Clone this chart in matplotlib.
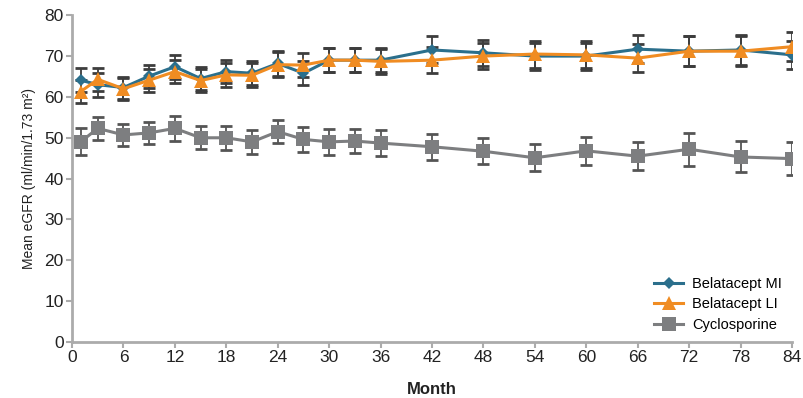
import numpy as np
import matplotlib.pyplot as plt

plt.rcParams['font.family'] = ['Liberation Sans', 'DejaVu Sans']

months = [1, 3, 6, 9, 12, 15, 18, 21, 24, 27, 30, 33, 36, 42, 48, 54, 60, 66, 72, 78, 84]

mi_mean = [64.1, 63.0, 62.3, 65.1, 67.4, 64.5, 66.2, 65.8, 68.2, 65.8, 69.0, 69.0, 69.0,
           71.5, 70.8, 70.0, 70.0, 71.7, 71.2, 71.5, 70.3]
mi_err = [3.0, 2.9, 2.7, 2.8, 2.9, 2.8, 2.9, 2.9, 3.0, 3.0, 3.0, 3.0, 3.0,
          3.3, 3.2, 3.3, 3.3, 3.5, 3.6, 3.6, 3.5]

li_mean = [61.3, 64.3, 62.0, 64.1, 66.2, 64.0, 65.4, 65.3, 67.9, 67.8, 69.0, 69.0, 68.7,
           69.0, 70.0, 70.5, 70.3, 69.5, 71.2, 71.2, 72.3]
li_err = [2.9, 2.8, 2.7, 2.8, 2.9, 2.8, 2.9, 2.9, 3.0, 3.0, 3.0, 3.0, 3.0,
          3.2, 3.2, 3.3, 3.3, 3.4, 3.6, 3.6, 3.6]

cyc_mean = [49.0, 52.3, 50.7, 51.2, 52.3, 50.0, 50.0, 49.0, 51.5, 49.6, 49.0, 49.2, 48.7,
            47.8, 46.7, 45.1, 46.8, 45.5, 47.2, 45.3, 44.9]
cyc_err = [3.3, 2.9, 2.6, 2.7, 3.0, 2.8, 3.0, 3.0, 2.8, 3.1, 3.1, 2.9, 3.1,
           3.2, 3.2, 3.3, 3.4, 3.5, 4.0, 3.8, 4.0]

xticks = list(range(0, 85, 6))
yticks = list(range(0, 81, 10))

axis_col = '#ababab'
err_col = '#3d3d3d'

fig = plt.figure(figsize=(8.04, 3.98), dpi=100)
ax = fig.add_axes([0.0896, 0.1407, 0.8955, 0.821])

series = [
    (cyc_mean, cyc_err, '#7d7e80', 's', 9.5, 'Cyclosporine'),
    (mi_mean, mi_err, '#2b6f8c', 'D', 6.5, 'Belatacept MI'),
    (li_mean, li_err, '#f08c22', '^', 9.5, 'Belatacept LI'),
]
handles = {}
for mean, err, col, mk, ms, lab in series:
    ax.errorbar(months, mean, yerr=err, fmt='none', ecolor=err_col if lab != 'Cyclosporine' else '#555555',
                elinewidth=1.3, capsize=4.5, capthick=2, zorder=2)
    h, = ax.plot(months, mean, color=col, marker=mk, markersize=ms, linewidth=2.2,
                 markeredgewidth=0, label=lab, zorder=3)
    handles[lab] = h

ax.set_xlim(0, 84)
ax.set_ylim(0, 80)
ax.set_xticks(xticks)
ax.set_yticks(yticks)
ax.tick_params(axis='both', colors=axis_col, length=4, width=1.5, labelsize=12.5,
               labelcolor='#222222', pad=2)

for s in ['top', 'right']:
    ax.spines[s].set_visible(False)
for s in ['left', 'bottom']:
    ax.spines[s].set_color(axis_col)
    ax.spines[s].set_linewidth(2)

ax.set_xlabel('Month', fontsize=12, fontweight='bold', color='#222222', labelpad=12)
ax.set_ylabel('Mean eGFR (ml/min/1.73 m²)', fontsize=10, color='#222222', labelpad=6)

ax.legend([handles['Belatacept MI'], handles['Belatacept LI'], handles['Cyclosporine']],
          ['Belatacept MI', 'Belatacept LI', 'Cyclosporine'],
          loc='lower right', frameon=False, fontsize=10.5, handlelength=2.0,
          borderaxespad=0.3, labelspacing=0.45, handletextpad=0.6)

fig.savefig('out.png', dpi=100)
